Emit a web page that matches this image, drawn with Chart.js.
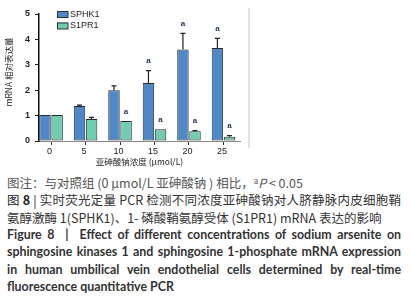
<!DOCTYPE html>
<html>
<head>
<meta charset="utf-8">
<script src="https://cdn.jsdelivr.net/npm/chart.js@4.4.0/dist/chart.umd.min.js"></script>
<style>
body { margin: 0; width: 411px; height: 300px; background: #fff; position: relative; overflow: hidden; }
#box { position: absolute; left: 0; top: 0; width: 262px; height: 168px; }
#rule { position: absolute; left: 248px; top: 8px; width: 2px; height: 140px; background: #e2e2e2; }
#cap { position: absolute; left: 7px; top: 174px; width: 394px; font-family: "Noto Sans CJK SC"; font-size: 12.5px; line-height: 17.33px; color: #333; }
.ln { height: 17.33px; white-space: nowrap; }
.j { text-align: justify; text-align-last: justify; white-space: normal; }
.en { font-family: Lato, "Noto Sans"; font-weight: bold; font-size: 12.4px; color: #333; }
.sup { font-size: 8px; vertical-align: 4px; line-height: 0; }
</style>
</head>
<body>
<div id="box"><canvas id="chart"></canvas></div>
<div id="rule"></div>
<div id="cap">
  <div class="ln" style="color:#555">图注：与对照组 (0 μmol/L 亚砷酸钠 ) 相比，<span class="sup">a</span><i>P</i> &lt; 0.05</div>
  <div class="ln j"><span style="color:#222">图 <b>8</b> | </span>实时荧光定量 PCR 检测不同浓度亚砷酸钠对人脐静脉内皮细胞鞘</div>
  <div class="ln">氨醇激酶 1(SPHK1)、1- 磷酸鞘氨醇受体 (S1PR1) mRNA 表达的影响</div>
  <div class="ln j en">Figure 8 &nbsp;|&nbsp; Effect of different concentrations of sodium arsenite on</div>
  <div class="ln j en">sphingosine kinases 1 and sphingosine 1-phosphate mRNA expression</div>
  <div class="ln j en">in human umbilical vein endothelial cells determined by real-time</div>
  <div class="ln en">fluorescence quantitative PCR</div>
</div>
<script>
// sodium arsenite dose (umol/L)
const doses = [0, 5, 10, 15, 20, 25];
const sphk1 = [1.02, 1.38, 2.0, 2.28, 3.6, 3.66];
const sphk1Err = [0, 0.03, 0.17, 0.49, 0.64, 0.38];
const s1pr1 = [1.02, 0.87, 0.79, 0.46, 0.38, 0.17];
const s1pr1Err = [0, 0.06, 0, 0, 0.03, 0.04];
const sphk1Sig = ['', '', '', 'a', 'a', 'a'];
const s1pr1Sig = ['', '', 'a', 'a', 'a', 'a'];
const yTicks = [0, 1, 2, 3, 4, 5];

const chartFont = '"Liberation Sans", Arial, sans-serif';
const errs = [sphk1Err, s1pr1Err];
const sigs = [sphk1Sig, s1pr1Sig];

const extras = {
    id: 'extras',
    afterDatasetsDraw(chart) {
        const ctx = chart.ctx;
        const y = chart.scales.y;
        ctx.save();
        chart.data.datasets.forEach((ds, di) => {
            const meta = chart.getDatasetMeta(di);
            meta.data.forEach((bar, i) => {
                let top = bar.y;
                if (errs[di][i] > 0) {
                    top = y.getPixelForValue(ds.data[i].y + errs[di][i]);
                    ctx.strokeStyle = '#222';
                    ctx.lineWidth = 1.2;
                    ctx.beginPath();
                    ctx.moveTo(bar.x, bar.y);
                    ctx.lineTo(bar.x, top);
                    ctx.moveTo(bar.x - 2.5, top);
                    ctx.lineTo(bar.x + 2.5, top);
                    ctx.stroke();
                }
                if (sigs[di][i]) {
                    ctx.fillStyle = '#24365a';
                    ctx.font = 'bold 8px ' + chartFont;
                    ctx.textAlign = 'center';
                    ctx.textBaseline = 'middle';
                    ctx.fillText(sigs[di][i], bar.x, top - 9.5);
                }
            });
        });
        ctx.restore();
    },
    afterDraw(chart) {
        const ctx = chart.ctx;
        ctx.save();
        // legend inside the plot
        chart.data.datasets.forEach((ds, di) => {
            const by = 11 + di * 11.5;
            ctx.fillStyle = ds.backgroundColor;
            ctx.fillRect(57, by, 11, 6.5);
            ctx.strokeStyle = '#333';
            ctx.lineWidth = 1;
            ctx.strokeRect(57.5, by + 0.5, 10.5, 6);
            ctx.fillStyle = '#222';
            ctx.font = '9px ' + chartFont;
            ctx.textAlign = 'left';
            ctx.textBaseline = 'middle';
            ctx.fillText(ds.label, 70, by + 3.5);
        });
        // y axis title
        ctx.translate(9, 72);
        ctx.rotate(-Math.PI / 2);
        ctx.fillStyle = '#222';
        ctx.font = '8.5px "Noto Sans CJK SC"';
        ctx.textAlign = 'center';
        ctx.textBaseline = 'middle';
        ctx.fillText('mRNA 相对表达量', 0, 0);
        ctx.restore();
    }
};

const ctx = document.getElementById('chart').getContext('2d');
new Chart(ctx, {
    type: 'bar',
    data: {
        datasets: [{
            label: 'SPHK1',
            data: doses.map((d, i) => ({ x: d, y: sphk1[i] })),
            backgroundColor: '#4f88c9',
            borderColor: '#2a2a2a',
            borderWidth: 1,
            borderSkipped: false,
            categoryPercentage: 0.7,
            barPercentage: 0.95
        }, {
            label: 'S1PR1',
            data: doses.map((d, i) => ({ x: d, y: s1pr1[i] })),
            backgroundColor: '#70cdb2',
            borderColor: '#2a2a2a',
            borderWidth: 1,
            borderSkipped: false,
            categoryPercentage: 0.7,
            barPercentage: 0.95
        }]
    },
    options: {
        responsive: true,
        maintainAspectRatio: false,
        animation: false,
        events: [],
        layout: {
            padding: { left: 0, top: 14, right: 22, bottom: 0 }
        },
        plugins: {
            legend: { display: false },
            tooltip: { enabled: false }
        },
        scales: {
            x: {
                type: 'linear',
                min: -1.75,
                max: 27.4,
                offset: false,
                afterBuildTicks: s => { s.ticks = doses.map(v => ({ value: v })); },
                afterFit: s => { s.height = 27; },
                grid: { offset: false, drawOnChartArea: false, tickLength: 4, color: '#333' },
                border: { color: '#888', width: 1 },
                ticks: {
                    color: '#222',
                    padding: 1.5,
                    labelOffset: -1.5,
                    maxRotation: 0,
                    font: { family: chartFont, size: 9 }
                },
                title: {
                    display: true,
                    text: '亚砷酸钠浓度 (μmol/L)',
                    color: '#222',
                    padding: { top: 0, bottom: 1 },
                    font: { family: '"Noto Sans CJK SC"', size: 8.5 }
                }
            },
            y: {
                min: 0,
                max: 5,
                afterBuildTicks: s => { s.ticks = yTicks.map(v => ({ value: v })); },
                afterFit: s => { s.width = 39; },
                grid: { drawOnChartArea: false, tickLength: 4, color: '#222' },
                border: { color: '#111', width: 1.5 },
                ticks: {
                    color: '#222',
                    padding: 5,
                    font: { family: chartFont, size: 9, weight: 'bold' }
                }
            }
        }
    },
    plugins: [extras]
});
</script>
</body>
</html>
